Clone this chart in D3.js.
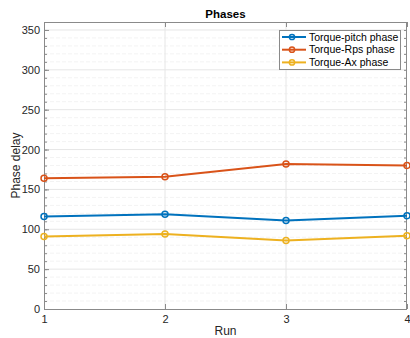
<!DOCTYPE html>
<html>
<head>
<meta charset="utf-8">
<script src="https://cdn.jsdelivr.net/npm/d3@7"></script>
<style>
  body { margin: 0; background: #fff; }
  svg { display: block; font-family: "Liberation Sans", Arial, sans-serif; }
</style>
</head>
<body>
<div id="chart"></div>
<script>
// data
const runs = [1, 2, 3, 4];
const pitchPhase = [116, 119, 111, 117];
const rpsPhase = [164, 166, 182, 180];
const axPhase = [91, 94, 86, 92];
const seriesNames = ["Torque-pitch phase", "Torque-Rps phase", "Torque-Ax phase"];
const yTicks = [0, 50, 100, 150, 200, 250, 300, 350];

const series = [pitchPhase, rpsPhase, axPhase];
const colors = ["#0072BD", "#D95319", "#EDB120"];

const width = 410, height = 338;
const margin = {top: 22, right: 3, bottom: 29, left: 44};

const svg = d3.select("#chart").append("svg")
    .attr("width", width)
    .attr("height", height);

const x = d3.scaleLinear()
    .domain([1, 4])
    .range([margin.left, width - margin.right]);

const y = d3.scaleLinear()
    .domain([0, 360])
    .range([height - margin.bottom, margin.top]);

const x0 = margin.left, x1 = width - margin.right;
const y0 = height - margin.bottom, y1 = margin.top;

// minor grid every 10
svg.append("g")
  .selectAll("line")
  .data(d3.range(10, 360, 10).filter(v => v % 50 !== 0))
  .join("line")
    .attr("x1", x0).attr("x2", x1)
    .attr("y1", d => y(d)).attr("y2", d => y(d))
    .attr("stroke", "#f3f3f3")
    .attr("stroke-dasharray", "4,2");

// major grid
svg.append("g")
  .selectAll("line")
  .data(yTicks.slice(1))
  .join("line")
    .attr("x1", x0).attr("x2", x1)
    .attr("y1", d => y(d)).attr("y2", d => y(d))
    .attr("stroke", "#e6e6e6");

svg.append("g")
  .selectAll("line")
  .data(runs.slice(1, -1))
  .join("line")
    .attr("x1", d => x(d)).attr("x2", d => x(d))
    .attr("y1", y0).attr("y2", y1)
    .attr("stroke", "#e6e6e6");

// axes
const axisColor = "#8a8a8a";
const minor = d3.range(0, 361, 10);

svg.append("g")
    .attr("transform", `translate(${x0},0)`)
    .call(d3.axisLeft(y).tickValues(minor).tickSize(-3).tickFormat(""))
    .call(g => g.select(".domain").remove())
    .call(g => g.selectAll(".tick line").attr("stroke", axisColor));

svg.append("g")
    .attr("transform", `translate(${x1},0)`)
    .call(d3.axisRight(y).tickValues(minor).tickSize(-3).tickFormat(""))
    .call(g => g.select(".domain").remove())
    .call(g => g.selectAll(".tick line").attr("stroke", axisColor));

svg.append("g")
    .attr("transform", `translate(${x0},0)`)
    .call(d3.axisLeft(y).tickValues(yTicks).tickSize(-5).tickPadding(4))
    .call(g => g.select(".domain").remove())
    .call(g => g.selectAll(".tick line").attr("stroke", axisColor))
    .call(g => g.selectAll(".tick text")
        .attr("fill", "#262626")
        .style("font-size", "11px")
        .style("font-family", "Liberation Sans, Arial, sans-serif"));

svg.append("g")
    .attr("transform", `translate(0,${y0})`)
    .call(d3.axisBottom(x).tickValues(runs).tickFormat(d3.format("d")).tickSize(-5).tickPadding(6))
    .call(g => g.select(".domain").remove())
    .call(g => g.selectAll(".tick line").attr("stroke", axisColor))
    .call(g => g.selectAll(".tick text")
        .attr("fill", "#262626")
        .style("font-size", "11px")
        .style("font-family", "Liberation Sans, Arial, sans-serif"));

svg.append("g")
    .attr("transform", `translate(0,${y1})`)
    .call(d3.axisTop(x).tickValues(runs).tickSize(-5).tickFormat(""))
    .call(g => g.select(".domain").remove())
    .call(g => g.selectAll(".tick line").attr("stroke", axisColor));

svg.append("rect")
    .attr("x", x0 + 0.5).attr("y", y1 + 0.5)
    .attr("width", x1 - x0 - 1).attr("height", y0 - y1)
    .attr("fill", "none")
    .attr("stroke", axisColor);

// lines
const line = d3.line()
    .x((d, i) => x(runs[i]))
    .y(d => y(d));

series.forEach((s, k) => {
  svg.append("path")
      .datum(s)
      .attr("fill", "none")
      .attr("stroke", colors[k])
      .attr("stroke-width", 2)
      .attr("d", line);
  svg.append("g")
    .selectAll("circle")
    .data(s)
    .join("circle")
      .attr("cx", (d, i) => x(runs[i]))
      .attr("cy", d => y(d))
      .attr("r", 3)
      .attr("fill", "none")
      .attr("stroke", colors[k])
      .attr("stroke-width", 1.5);
});

// labels
svg.append("text")
    .attr("x", (x0 + x1) / 2)
    .attr("y", 18)
    .attr("text-anchor", "middle")
    .attr("font-weight", "bold")
    .attr("font-size", 11.5)
    .attr("fill", "#000")
    .text("Phases");

svg.append("text")
    .attr("x", (x0 + x1) / 2)
    .attr("y", 335)
    .attr("text-anchor", "middle")
    .attr("font-size", 12)
    .attr("fill", "#262626")
    .text("Run");

svg.append("text")
    .attr("transform", `translate(20,${(y0 + y1) / 2}) rotate(-90)`)
    .attr("text-anchor", "middle")
    .attr("font-size", 12)
    .attr("fill", "#262626")
    .text("Phase delay");

// legend
const legend = svg.append("g").attr("transform", "translate(279,30)");
legend.append("rect")
    .attr("x", 0.5).attr("y", 0.5)
    .attr("width", 121).attr("height", 39)
    .attr("fill", "#fff")
    .attr("stroke", "#8a8a8a");

const item = legend.selectAll("g.item")
  .data(seriesNames)
  .join("g")
    .attr("class", "item")
    .attr("transform", (d, i) => `translate(0,${7 + i * 12.7})`);

item.append("line")
    .attr("x1", 3).attr("x2", 27)
    .attr("stroke", (d, i) => colors[i])
    .attr("stroke-width", 2);
item.append("circle")
    .attr("cx", 13).attr("r", 2.6)
    .attr("fill", "none")
    .attr("stroke", (d, i) => colors[i])
    .attr("stroke-width", 1.5);
item.append("text")
    .attr("x", 30)
    .attr("dy", "0.35em")
    .attr("font-size", 10.5)
    .attr("fill", "#000")
    .text(d => d);
</script>
</body>
</html>
